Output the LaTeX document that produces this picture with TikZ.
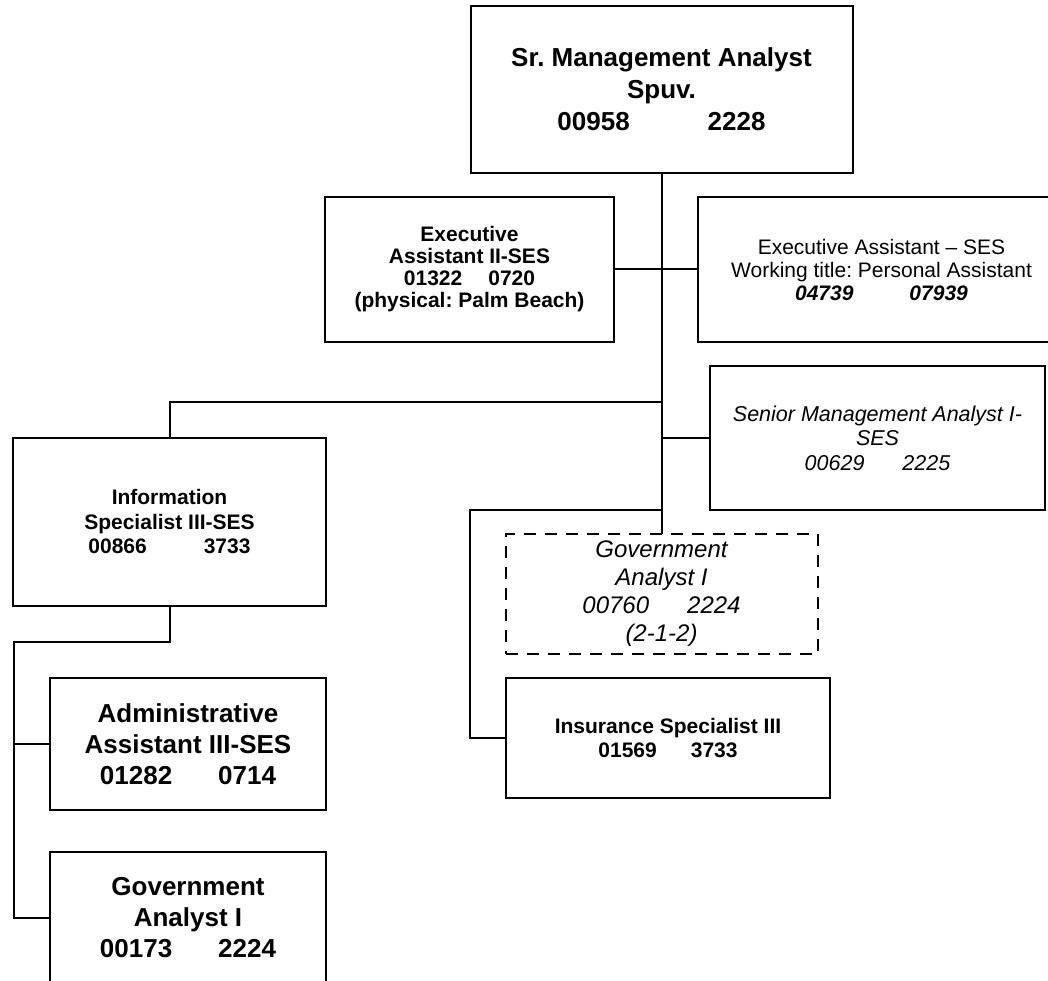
\documentclass[tikz,border=0pt]{standalone}
\usepackage{fontspec}
\setmainfont{Liberation Sans}
\frenchspacing
\begin{document}
\begin{tikzpicture}[x=1pt,y=-1pt,
  post/.style={draw=black, line width=2pt, rectangle, inner sep=0pt, outer sep=0pt, align=center},
  headbold/.style={font=\fontsize{26}{32}\selectfont\bfseries},
  bigbold/.style={font=\fontsize{26}{31}\selectfont\bfseries},
  midbold/.style={font=\fontsize{21}{24.5}\selectfont\bfseries},
  tightbold/.style={font=\fontsize{21}{22}\selectfont\bfseries},
  midplain/.style={font=\fontsize{21}{23}\selectfont},
  miditalic/.style={font=\fontsize{21.5}{24.5}\selectfont\itshape},
  vacant/.style={font=\fontsize{24}{28}\selectfont\itshape, dash pattern=on 12pt off 9pt},
  link/.style={line width=2pt}
]
\useasboundingbox (0,0) rectangle (1048,981);
\clip (0,0) rectangle (1048,981);

% positions
\node[post, headbold, minimum width=382pt, minimum height=167pt] (top) at (661.5,89.5)
  {Sr. Management Analyst\\Spuv.\\00958\hspace{78pt}2228};
\node[post, tightbold, minimum width=289pt, minimum height=145pt] (exec2) at (469.5,269.5)
  {Executive\\Assistant II-SES\\01322\hspace{26pt}0720\\(physical: Palm Beach)};
\node[post, midplain, minimum width=367pt, minimum height=145pt] (execses) at (881.5,269.5)
  {Executive Assistant -- SES\\Working title: Personal Assistant\\\textbf{\textit{04739\hspace{56pt}07939}}};
\node[post, miditalic, minimum width=335pt, minimum height=144pt] (senior) at (877.5,438)
  {Senior Management Analyst I-\\SES\\00629\hspace{38pt}2225};
\node[post, midbold, minimum width=313pt, minimum height=168pt] (info) at (169.5,522)
  {Information\\Specialist III-SES\\00866\hspace{57pt}3733};
\node[post, vacant, minimum width=312pt, minimum height=120pt] (ga) at (661.5,594)
  {Government\\Analyst I\\00760\hspace{38pt}2224\\(2-1-2)};
\node[post, midbold, minimum width=324pt, minimum height=120pt] (ins) at (668,738)
  {Insurance Specialist III\\01569\hspace{34pt}3733};
\node[post, bigbold, minimum width=276pt, minimum height=132pt] (admin) at (188,744)
  {Administrative\\Assistant III-SES\\01282\hspace{46pt}0714};
\node[post, bigbold, minimum width=276pt, minimum height=132pt] (gov) at (188,918)
  {Government\\Analyst I\\00173\hspace{46pt}2224};

% junction points on the connectors
\coordinate (jInfo) at (661.5,402);
\coordinate (jIns) at (661.5,510);
\coordinate (cIns) at (470,510);
\coordinate (dInfo) at (169.5,642);
\coordinate (rail) at (14,642);

% connectors
\draw[link] (top.south) -- (ga.north);
\draw[link] (exec2.east) -- (execses.west);
\draw[link] (jInfo) -| (info.north);
\draw[link] (senior.west) -- (senior.west -| top.south);
\draw[link] (jIns) -- (cIns) |- (ins.west);
\draw[link] (info.south) -- (dInfo) -- (rail) |- (gov.west);
\draw[link] (rail |- admin.west) -- (admin.west);
\end{tikzpicture}
\end{document}
